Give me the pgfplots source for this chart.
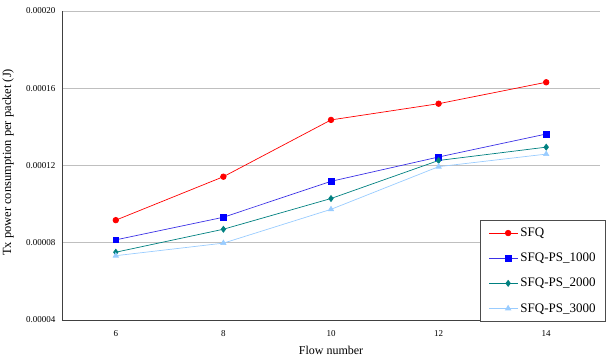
\documentclass[border=0pt]{standalone}
\usepackage{pgfplots}
\pgfplotsset{compat=1.18}
\usepackage{fontspec}
\setmainfont{Liberation Serif}
\definecolor{sfqred}{RGB}{255,0,0}
\definecolor{ps1}{RGB}{0,0,255}
\definecolor{ps1line}{RGB}{60,50,230}
\definecolor{ps2}{RGB}{0,128,128}
\definecolor{ps3}{RGB}{153,204,255}
\begin{document}
\begin{tikzpicture}[x=1pt,y=1pt]
\begin{axis}[
  at={(62pt,36pt)}, anchor=south west,
  scale only axis, width=538pt, height=309pt,
  xmin=-0.5, xmax=4.5,
  ymin=0.00004, ymax=0.0002,
  scaled y ticks=false,
  axis x line*=bottom, axis y line*=left,
  axis line style={black!75, line width=0.8pt},
  xtick={0,1,2,3,4},
  xticklabels={6,8,10,12,14},
  major x tick style={draw=none},
  extra x ticks={0.5,1.5,2.5,3.5},
  extra x tick labels={},
  extra x tick style={major tick length=4pt, tick style={black!75, line width=0.8pt}, grid=none},
  xtick align=inside,
  ytick={0.00004,0.00008,0.00012,0.00016,0.0002},
  yticklabels={0.00004,0.00008,0.00012,0.00016,0.00020},
  ytick style={draw=none},
  ymajorgrids, grid style={black!25, line width=0.6pt},
  tick label style={font=\fontsize{9}{10}\selectfont},
  xticklabel style={yshift=-7pt},
  yticklabel style={xshift=-3pt},
  xlabel={Flow number},
  xlabel style={at={(axis description cs:0.5,-0.084)}, anchor=north, inner sep=0pt, font=\fontsize{12}{14}\selectfont},
  ylabel={Tx power consumption per packet (J)},
  ylabel style={at={(axis description cs:-0.100,0.51)}, anchor=center, font=\fontsize{12.5}{14}\selectfont},
  legend style={at={(axis description cs:1.011,-0.006)}, anchor=south east,
    draw=black!70, line width=0.6pt, fill=white,
    font=\fontsize{13}{14}\selectfont, row sep=11pt,
    inner xsep=8pt, inner ysep=6pt},
  legend cell align=left,
  legend image code/.code={\path (-9pt,0pt) -- (0pt,0pt); \draw[mark repeat=2,mark phase=2] plot coordinates {(0pt,0pt) (10pt,0pt) (20pt,0pt)};},
  clip=false,
]
\addplot[color=sfqred, line width=0.7pt, mark=*, mark size=2.8pt, mark options={fill=sfqred, draw=sfqred}]
  coordinates {(0,0.0000917) (1,0.0001142) (2,0.0001436) (3,0.0001520) (4,0.0001631)};
\addlegendentry{SFQ}
\addplot[color=ps1line, line width=0.7pt, mark=square*, mark size=2.9pt, mark options={fill=ps1, draw=ps1}]
  coordinates {(0,0.0000815) (1,0.0000932) (2,0.0001118) (3,0.0001244) (4,0.0001363)};
\addlegendentry{SFQ-PS\_1000}
\addplot[color=ps2, line width=0.7pt, mark=diamond*, mark size=3pt, mark options={fill=ps2, draw=ps2}]
  coordinates {(0,0.0000751) (1,0.0000870) (2,0.0001029) (3,0.0001226) (4,0.0001295)};
\addlegendentry{SFQ-PS\_2000}
\addplot[color=ps3, line width=0.7pt, mark=triangle*, mark size=3pt, mark options={fill=ps3, draw=ps3}]
  coordinates {(0,0.0000733) (1,0.0000798) (2,0.0000973) (3,0.0001194) (4,0.0001259)};
\addlegendentry{SFQ-PS\_3000}
\end{axis}
\pgfresetboundingbox
\path[use as bounding box] (0,0) rectangle (607,356);
\end{tikzpicture}
\end{document}
